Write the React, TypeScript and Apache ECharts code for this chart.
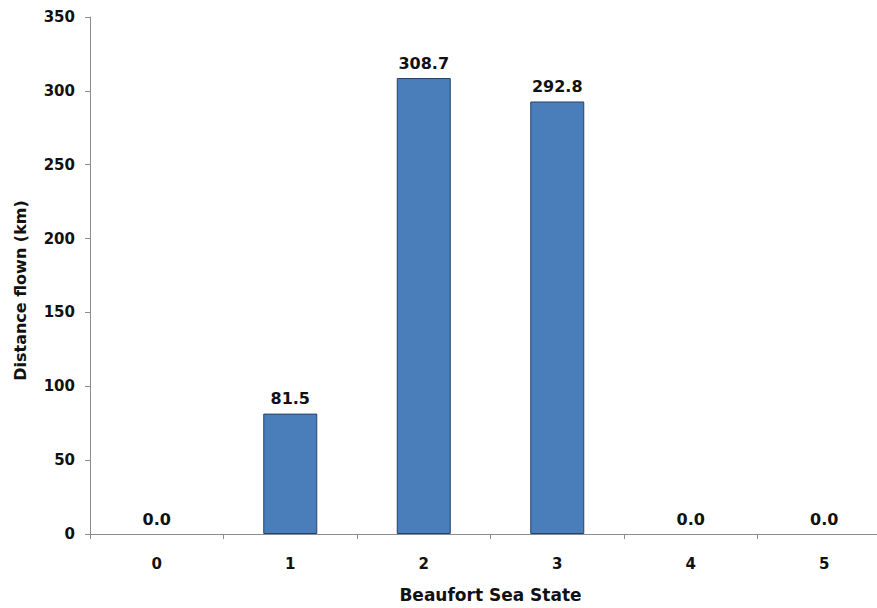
import React, { useEffect, useRef } from "react";
import * as echarts from "echarts";

const categories = ["0", "1", "2", "3", "4", "5"];
const distances = [0.0, 81.5, 308.7, 292.8, 0.0, 0.0];
const yTicks = { min: 0, max: 350, interval: 50 };

export default function App() {
  const ref = useRef<HTMLDivElement>(null);
  useEffect(() => {
    document.body.style.overflow = "hidden";
    const chart = echarts.init(ref.current!, null, { renderer: "svg" });
    const font = "'DejaVu Sans', 'Liberation Sans', Arial, sans-serif";
    chart.setOption({
      animation: false,
      backgroundColor: "#ffffff",
      grid: { left: 90, top: 17, right: 0, bottom: 73, containLabel: false },
      xAxis: {
        type: "category",
        data: categories,
        name: "Beaufort Sea State",
        nameLocation: "middle",
        nameGap: 52,
        nameTextStyle: {
          fontFamily: font,
          fontWeight: "bold",
          fontSize: 17,
          color: "#111",
        },
        axisLine: { lineStyle: { color: "#8c8c8c", width: 1 } },
        axisTick: { show: true, length: 5, lineStyle: { color: "#8c8c8c" } },
        axisLabel: { fontFamily: font, fontWeight: "bold", fontSize: 15, color: "#111", margin: 22 },
      },
      yAxis: {
        type: "value",
        min: yTicks.min,
        max: yTicks.max,
        interval: yTicks.interval,
        name: "Distance flown (km)",
        nameLocation: "middle",
        nameGap: 62,
        nameTextStyle: {
          fontFamily: font,
          fontWeight: "bold",
          fontSize: 16,
          color: "#111",
          padding: [0, 30, 0, 0],
        },
        axisLine: { show: true, lineStyle: { color: "#8c8c8c", width: 1 } },
        axisTick: { show: true, length: 5, lineStyle: { color: "#8c8c8c" } },
        splitLine: { show: false },
        axisLabel: { fontFamily: font, fontWeight: "bold", fontSize: 15, color: "#111", margin: 15 },
      },
      series: [
        {
          type: "bar",
          data: distances.map((v) => ({
            value: v,
            itemStyle:
              v === 0
                ? { borderWidth: 0, color: "rgba(0,0,0,0)", borderColor: "rgba(0,0,0,0)" }
                : undefined,
          })),
          barWidth: 54,
          itemStyle: { color: "#4a7ebb", borderColor: "#24406a", borderWidth: 1 },
          label: {
            show: true,
            position: "top",
            distance: 7,
            formatter: (p: any) => Number(p.value).toFixed(1),
            fontFamily: font,
            fontWeight: "bold",
            fontSize: 16,
            color: "#111",
          },
        },
      ],
    });
    return () => chart.dispose();
  }, []);
  return (
    <div
      ref={ref}
      style={{ position: "fixed", left: 0, top: 0, width: 891, height: 608, background: "#fff" }}
    />
  );
}
